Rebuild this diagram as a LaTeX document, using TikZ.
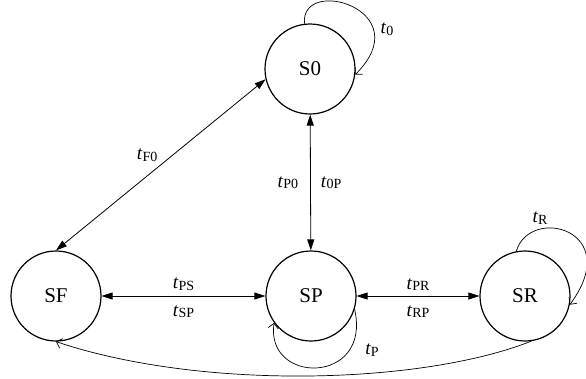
\documentclass[tikz,border=0pt]{standalone}
\usepackage{fontspec}
\setmainfont{Liberation Serif}
\usetikzlibrary{arrows.meta}

\newcommand{\trans}[1]{\textit{t}\raisebox{-1.5pt}{\fontsize{14}{16}\selectfont #1}}

\begin{document}
\begin{tikzpicture}[x=1pt, y=-1pt,
    state/.style={draw, circle, line width=1.2pt, minimum size=90pt, inner sep=0pt,
        font=\fontsize{21}{25}\selectfont},
    link/.style={{Triangle[length=11pt,width=7pt]}-{Triangle[length=11pt,width=7pt]}, line width=0.8pt},
    loopy/.style={-{Straight Barb[length=5pt,width=10pt]}, line width=0.7pt},
    lbl/.style={font=\fontsize{19}{22}\selectfont, inner sep=3pt}]

    % 0. Khung hình
    \useasboundingbox (0,0) rectangle (586,378);

    % 1. Các trạng thái
    \node[state] (s0) at (310,69) {S0};
    \node[state] (sf) at (56,296) {SF};
    \node[state] (sp) at (311,296) {SP};
    \node[state] (sr) at (525,296) {SR};

    % 2. Các cung hai chiều
    \draw[link] (sf.north) -- (s0.193) node[lbl, pos=0.5, above left] (lf0) {\trans{F0}};
    \draw[link] (s0) -- (sp)
        node[lbl, midway, left=9pt] (lp0) {\trans{P0}}
        node[lbl, midway, right=7pt] (l0p) {\trans{0P}};
    \draw[link] (sf) -- (sp)
        node[lbl, midway, above=2pt] (lps) {\trans{PS}}
        node[lbl, midway, below=6pt] (lsp) {\trans{SP}};
    \draw[link] (sp) -- (sr)
        node[lbl, midway, above=2pt] (lpr) {\trans{PR}}
        node[lbl, midway, below=6pt] (lrp) {\trans{RP}};

    % 3. Các vòng lặp
    \draw[loopy] (s0.97) .. controls (300,-25) and (420,10) .. (s0.-7);
    \node[lbl] (l0) at (387,29) {\trans{0}};
    \draw[loopy] (sr.101) .. controls (530,205) and (625,230) .. (sr.-11);
    \node[lbl] (lr) at (540,218) {\trans{R}};
    \draw[loopy] (sp.-17) .. controls (372,385) and (265,385) .. (sp.216);
    \node[lbl] (lp) at (372,350) {\trans{P}};

    % 4. Cung dài từ SR về SF
    \draw[loopy] (sr.-82) .. controls (420,385) and (200,390) .. (sf.south);
\end{tikzpicture}
\end{document}
